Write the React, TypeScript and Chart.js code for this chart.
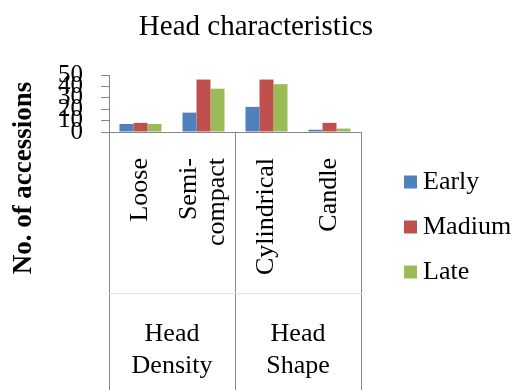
import { useEffect, useRef } from "react";
import { Chart, registerables } from "chart.js";

Chart.register(...registerables);

// Category axis: first level (shape/density classes) and second level (groups)
const categories: string[][] = [["Loose"], ["Semi-", "compact"], ["Cylindrical"], ["Candle"]];
const groups: string[][] = [["Head", "Density"], ["Head", "Shape"]];

// Number of accessions per maturity class
const early = [7, 17, 22, 2];
const madium = [8, 46, 46, 8];
const late = [7, 38, 42, 3];

const seriesNames = ["Early", "Madium", "Late"];
const seriesColors = ["#4F81BD", "#C0504D", "#9BBB59"];

const yTicks = [0, 10, 20, 30, 40, 50];

const chartTitle = "Head characteristics";
const yTitle = "No. of accessions";

const SERIF = '"Liberation Serif", "Times New Roman", Times, serif';
const AXIS_GREY = "#868686";

// Rotated first-level category labels, stacked side by side when wrapped
const categoryLabels = {
  id: "categoryLabels",
  afterDraw(chart: any) {
    const scale = chart.scales.x;
    const ctx = chart.ctx;
    const lineGap = 28;
    ctx.save();
    ctx.font = `26px ${SERIF}`;
    ctx.fillStyle = "#000";
    ctx.textAlign = "right";
    ctx.textBaseline = "middle";
    categories.forEach((lines, i) => {
      const px = scale.getPixelForTick(i);
      lines.forEach((line, j) => {
        const dx = (j - (lines.length - 1) / 2) * lineGap;
        ctx.save();
        ctx.translate(px + dx, scale.top + 26);
        ctx.rotate(-Math.PI / 2);
        ctx.fillText(line, 0, 0);
        ctx.restore();
      });
    });
    ctx.restore();
  },
};

// Vertical axis title, centred on the full left band
const axisTitle = {
  id: "axisTitle",
  afterDraw(chart: any) {
    const ctx = chart.ctx;
    ctx.save();
    ctx.font = `bold 27px ${SERIF}`;
    ctx.fillStyle = "#000";
    ctx.textAlign = "center";
    ctx.textBaseline = "middle";
    ctx.translate(24, 178);
    ctx.rotate(-Math.PI / 2);
    ctx.fillText(yTitle, 0, 0);
    ctx.restore();
  },
};

// Legend on the right: square swatch followed by the series name
const sideLegend = {
  id: "sideLegend",
  afterDraw(chart: any) {
    const ctx = chart.ctx;
    const x = chart.chartArea.right + 43;
    const firstRow = 182;
    const rowGap = 45;
    const box = 13;
    ctx.save();
    ctx.font = `26px ${SERIF}`;
    ctx.textAlign = "left";
    ctx.textBaseline = "middle";
    chart.data.datasets.forEach((ds: any, i: number) => {
      const cy = firstRow + i * rowGap;
      ctx.fillStyle = ds.backgroundColor;
      ctx.fillRect(x, cy - box / 2, box, box);
      ctx.fillStyle = "#000";
      ctx.fillText(ds.label, x + box + 6, cy);
    });
    ctx.restore();
  },
};

export default function App() {
  const canvasRef = useRef<HTMLCanvasElement>(null);

  useEffect(() => {
    const canvas = canvasRef.current;
    if (!canvas) return;
    const series = [early, madium, late];
    const chart = new Chart(canvas, {
      type: "bar",
      data: {
        labels: categories as any,
        datasets: series.map((values, i) => ({
          label: seriesNames[i],
          data: values,
          backgroundColor: seriesColors[i],
          borderWidth: 0,
          xAxisID: "x",
          yAxisID: "y",
          categoryPercentage: 0.667,
          barPercentage: 1,
        })),
      },
      options: {
        responsive: false,
        animation: false,
        layout: { padding: { left: 0, right: 4, top: 0, bottom: 0 } },
        plugins: {
          legend: { display: false },
          tooltip: { enabled: false },
          title: {
            display: true,
            text: chartTitle,
            color: "#000",
            font: { family: SERIF, size: 29, weight: "normal", lineHeight: 1.2 },
            padding: { top: 10, bottom: 30.2 },
          },
        },
        scales: {
          y: {
            type: "linear",
            position: "left",
            min: 0,
            max: 50,
            afterBuildTicks: (s: any) => {
              s.ticks = yTicks.map((v) => ({ value: v }));
            },
            afterFit: (s: any) => {
              s.width = 109;
            },
            ticks: {
              autoSkip: false,
              padding: 18,
              color: "#000",
              font: { family: SERIF, size: 25 },
            },
            grid: {
              drawOnChartArea: false,
              drawTicks: true,
              tickLength: 8,
              color: AXIS_GREY,
            },
            border: { display: true, color: AXIS_GREY, width: 1 },
          },
          // empty band that keeps room for the legend on the right
          legendBand: {
            type: "linear",
            position: "right",
            display: true,
            afterFit: (s: any) => {
              s.width = 151;
            },
            ticks: { display: false },
            grid: { display: false, drawTicks: false },
            border: { display: false },
          },
          x: {
            type: "category",
            position: "bottom",
            weight: 1,
            offset: true,
            afterFit: (s: any) => {
              s.height = 161;
            },
            ticks: { display: false, autoSkip: false },
            grid: {
              offset: true,
              drawOnChartArea: false,
              drawTicks: true,
              tickLength: 161,
              color: (c: any) => (c.index === 1 || c.index === 3 ? "rgba(0,0,0,0)" : AXIS_GREY),
              tickColor: (c: any) => (c.index === 1 || c.index === 3 ? "rgba(0,0,0,0)" : AXIS_GREY),
            },
            border: { display: true, color: AXIS_GREY, width: 1 },
          },
          x2: {
            type: "category",
            position: "bottom",
            weight: 2,
            labels: groups as any,
            offset: true,
            afterFit: (s: any) => {
              s.height = 97;
            },
            ticks: {
              autoSkip: false,
              maxRotation: 0,
              minRotation: 0,
              padding: -72,
              color: "#000",
              font: { family: SERIF, size: 26, lineHeight: "32px" },
            },
            grid: {
              offset: true,
              drawOnChartArea: false,
              drawTicks: true,
              tickLength: 97,
              color: AXIS_GREY,
            },
            border: { display: true, color: "#E4E4E4", width: 1 },
          },
        },
      } as any,
      plugins: [categoryLabels, axisTitle, sideLegend],
    });
    return () => chart.destroy();
  }, []);

  return (
    <div style={{ position: "fixed", left: 0, top: 0, width: 516, height: 390, background: "#fff" }}>
      <canvas ref={canvasRef} width={516} height={390} style={{ display: "block" }} />
    </div>
  );
}
